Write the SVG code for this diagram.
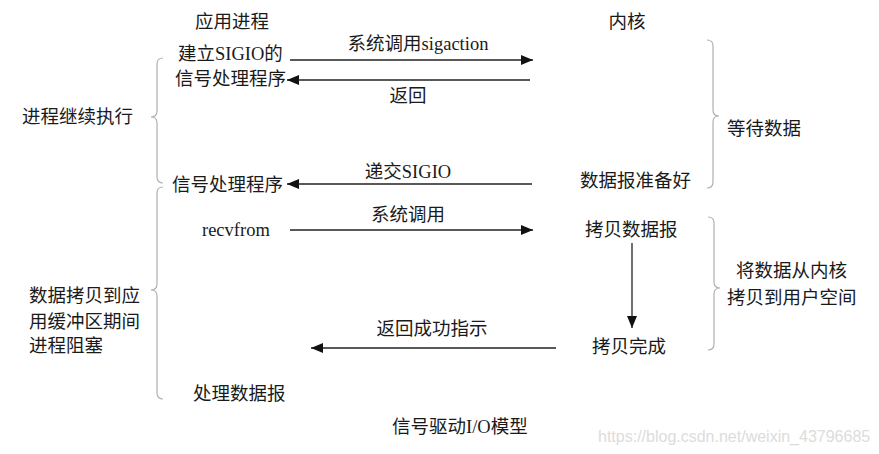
<svg xmlns="http://www.w3.org/2000/svg" width="879" height="454" viewBox="0 0 879 454">
<defs>
<style>
text{font-family:"Liberation Serif","Noto Sans CJK SC",serif;font-size:18.5px;fill:#1a1a1a}
.m{text-anchor:middle}
.ln{stroke:#222;stroke-width:1.3;fill:none}
.br{stroke:#b0b0b0;stroke-width:1.2;fill:none}
.wm{font-family:"Liberation Sans",sans-serif;font-size:16px;fill:#dcdcdc}
</style>
<marker id="ah" viewBox="0 0 12 10" refX="12" refY="5" markerWidth="12" markerHeight="10" markerUnits="userSpaceOnUse" orient="auto">
<path d="M0,0 L12,5 L0,10 Z" fill="#111"/>
</marker>
</defs>
<rect width="879" height="454" fill="#fff"/>
<g id="headers">
<text class="m" x="232" y="28">应用进程</text>
<text class="m" x="627" y="28">内核</text>
</g>
<g id="node-setup">
<text x="178" y="60">建立SIGIO的</text>
<text x="175" y="85">信号处理程序</text>
</g>
<g id="node-continue"><text x="22" y="123">进程继续执行</text></g>
<g id="node-handler"><text x="172" y="191">信号处理程序</text></g>
<g id="node-ready"><text x="580" y="187">数据报准备好</text></g>
<g id="node-wait"><text x="727" y="135">等待数据</text></g>
<g id="node-recvfrom"><text x="202" y="236">recvfrom</text></g>
<g id="node-copy"><text x="585" y="236">拷贝数据报</text></g>
<g id="node-copydone"><text x="592" y="353">拷贝完成</text></g>
<g id="node-kernelcopy">
<text x="736" y="277">将数据从内核</text>
<text x="727" y="304">拷贝到用户空间</text>
</g>
<g id="node-blocked">
<text x="29" y="302">数据拷贝到应</text>
<text x="29" y="328">用缓冲区期间</text>
<text x="29" y="352">进程阻塞</text>
</g>
<g id="node-process"><text x="193" y="400">处理数据报</text></g>
<g id="title"><text x="392" y="433">信号驱动I/O模型</text></g>
<g id="connectors">
<line class="ln" x1="290" y1="60" x2="533" y2="60" marker-end="url(#ah)"/>
<line class="ln" x1="530" y1="80" x2="287" y2="80" marker-end="url(#ah)"/>
<line class="ln" x1="532" y1="184" x2="287" y2="184" marker-end="url(#ah)"/>
<line class="ln" x1="290" y1="230" x2="533" y2="230" marker-end="url(#ah)"/>
<line class="ln" x1="632" y1="243" x2="632" y2="328" marker-end="url(#ah)"/>
<line class="ln" x1="556" y1="348" x2="311" y2="348" marker-end="url(#ah)"/>
<path class="br" d="M163,58 Q157,58 157,64 L157,111 Q157,117 151,117 Q157,117 157,123 L157,177 Q157,183 163,183"/>
<path class="br" d="M163,187 Q157,187 157,193 L157,284 Q157,290 151,290 Q157,290 157,296 L157,393 Q157,399 163,399"/>
<path class="br" d="M707,40 Q713,40 713,46 L713,110 Q713,116 719,116 Q713,116 713,122 L713,182 Q713,188 707,188"/>
<path class="br" d="M708,217 Q714,217 714,223 L714,282 Q714,288 720,288 Q714,288 714,294 L714,344 Q714,350 708,350"/>
</g>
<g id="labels">
<text class="m" x="418" y="50">系统调用sigaction</text>
<text class="m" x="408" y="102">返回</text>
<text class="m" x="408" y="178">递交SIGIO</text>
<text class="m" x="408" y="221">系统调用</text>
<text class="m" x="432" y="335">返回成功指示</text>
</g>
<text class="wm" x="598" y="442">https://blog.csdn.net/weixin_43796685</text>
</svg>
